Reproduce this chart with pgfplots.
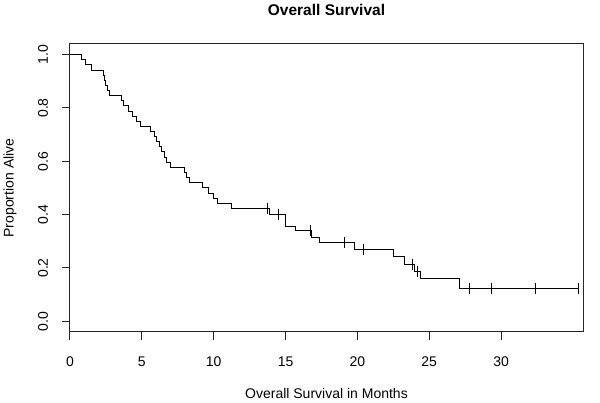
\documentclass[border=0pt]{standalone}
\usepackage{fontspec}
\setmainfont{Liberation Sans}
\usepackage{pgfplots}
\pgfplotsset{compat=1.18}
\begin{document}
\begin{tikzpicture}
\path[use as bounding box] (-70pt,-71pt) rectangle (530pt,332pt);
\begin{axis}[
  at={(0pt,0pt)}, anchor=south west,
  scale only axis, width=513pt, height=288pt,
  xmin=0, xmax=35.7, ymin=-0.04, ymax=1.04,
  xtick={0,5,10,15,20,25,30},
  ytick={0,0.2,0.4,0.6,0.8,1.0},
  tick align=outside, major tick length=8pt,
  xtick pos=lower, ytick pos=left,
  axis line style={line width=1pt, black!85},
  every tick/.style={line width=1pt, black!85},
  font=\fontsize{14}{16}\selectfont,
  /pgf/number format/assume math mode=true,
  xticklabel style={anchor=center, yshift=-22pt},
  yticklabel style={/pgf/number format/.cd, fixed, fixed zerofill, precision=1, /tikz/.cd, xshift=-19pt, rotate=90, anchor=center},
  title={Overall Survival},
  title style={font=\fontsize{15.5}{18}\selectfont\bfseries, at={(0.5,1.097)}, anchor=center},
  xlabel={Overall Survival in Months},
  xlabel style={at={(0.5,-0.2135)}, anchor=center},
  ylabel={Proportion Alive},
  ylabel style={at={(-0.11696,0.5)}, anchor=center},
]
\addplot[const plot, black, line width=1pt] coordinates {
(0,1) (0.77,0.981) (1.11,0.962) (1.5,0.942) (2.3,0.923) (2.4,0.904)
(2.5,0.885) (2.6,0.865) (2.75,0.846) (3.6,0.827) (3.75,0.808) (4.05,0.788)
(4.35,0.769) (4.6,0.750) (4.94,0.731) (5.57,0.712) (5.87,0.692) (6.05,0.673)
(6.2,0.654) (6.35,0.635) (6.55,0.615) (6.75,0.596) (7.0,0.577) (7.95,0.558)
(8.12,0.538) (8.3,0.519) (9.2,0.500) (9.63,0.481) (9.97,0.462) (10.28,0.442)
(11.25,0.423) (13.9,0.402) (15.0,0.356) (15.7,0.340) (16.78,0.315) (17.35,0.296)
(19.8,0.269) (22.5,0.244) (23.3,0.213) (23.95,0.188) (24.4,0.160) (27.1,0.123)
(35.4,0.123)
};
\addplot[only marks, mark=|, mark size=5.5pt, black, mark options={line width=1pt}] coordinates {
(13.75,0.423) (14.5,0.402) (16.72,0.340) (19.1,0.296) (20.4,0.269)
(23.85,0.213) (24.15,0.188) (27.8,0.123) (29.3,0.123) (32.4,0.123) (35.4,0.123)
};
\end{axis}
\end{tikzpicture}
\end{document}
